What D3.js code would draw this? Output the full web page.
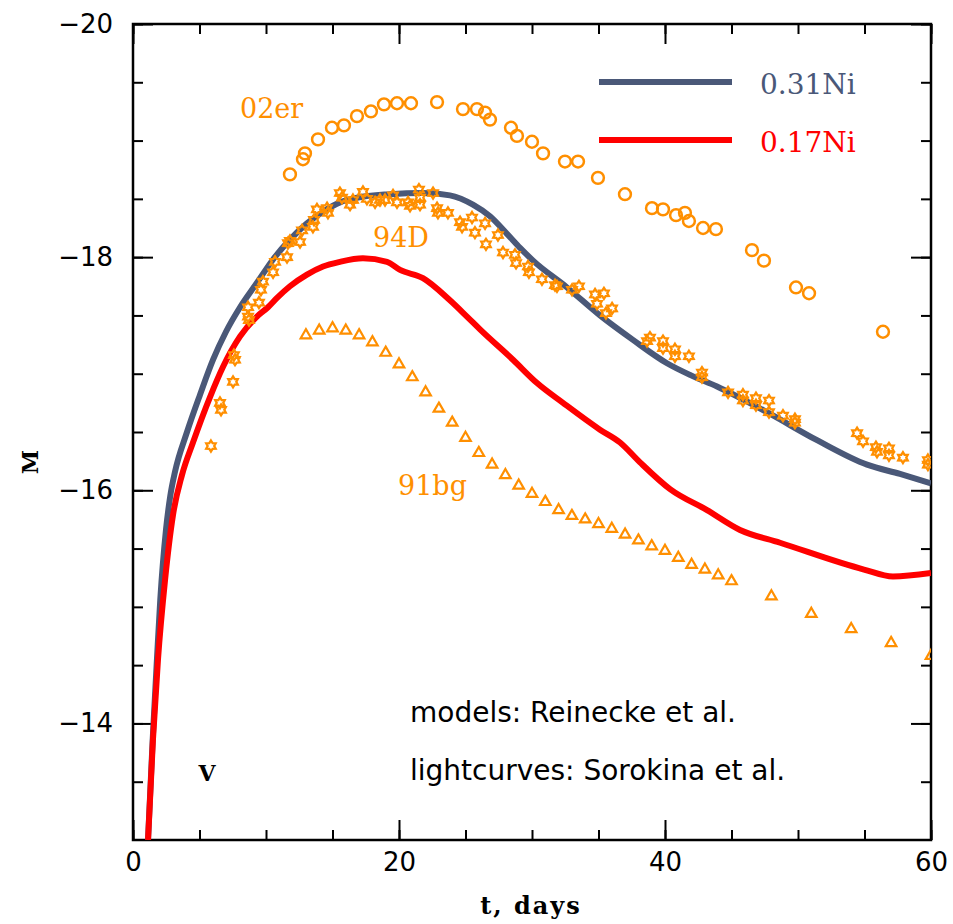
<!DOCTYPE html>
<html>
<head>
<meta charset="utf-8">
<script src="https://cdn.jsdelivr.net/npm/d3@7"></script>
<style>
    body { margin: 0; background: #fff; }
</style>
</head>
<body>
<svg id="chart" width="953" height="924"></svg>
<script>
// model light curves (t in days, M = absolute V magnitude)
var tNi031 = [1.13, 1.48, 1.80, 2.05, 2.48, 2.80, 3.16, 4.06, 5.04, 6.02, 6.99, 8.05, 9.32, 10.53, 11.80, 13.08,
    14.29, 15.56, 16.84, 19.32, 21.80, 23.83, 25.56, 26.84, 28.12, 29.10, 30.08, 32.63, 35.11, 37.59, 40.15,
    41.88, 43.91, 47.67, 51.43, 55.19, 57.67, 60];
var mNi031 = [-13.00, -13.86, -14.55, -15.06, -15.66, -15.95, -16.16, -16.50, -16.82, -17.12, -17.36, -17.57,
    -17.78, -17.98, -18.15, -18.29, -18.39, -18.47, -18.51, -18.54, -18.55, -18.53, -18.45, -18.35, -18.20,
    -18.08, -17.97, -17.74, -17.50, -17.29, -17.09, -16.99, -16.89, -16.67, -16.43, -16.22, -16.14, -16.06];

var tNi017 = [1.13, 1.50, 1.88, 2.41, 3.01, 3.68, 4.51, 5.79, 6.77, 8.05, 9.32, 10.15, 10.83, 11.80, 13.08,
    14.29, 15.56, 17.29, 19.10, 20.08, 21.80, 23.83, 25.11, 26.09, 28.57, 30.38, 32.33, 35.11, 36.62, 38.12,
    40.38, 43.16, 45.64, 48.65, 54.96, 57.14, 60];
var mNi017 = [-13.00, -13.86, -14.55, -15.23, -15.79, -16.13, -16.41, -16.80, -17.06, -17.32, -17.49, -17.57,
    -17.65, -17.75, -17.85, -17.92, -17.96, -17.99, -17.96, -17.89, -17.82, -17.63, -17.49, -17.38, -17.12,
    -16.92, -16.75, -16.52, -16.41, -16.24, -16.01, -15.83, -15.66, -15.55, -15.32, -15.26, -15.29];

// observed light curves
var t02er = [11.80, 12.78, 12.93, 13.91, 14.96, 15.86, 16.84, 17.89, 18.87, 19.85, 20.90, 22.86, 24.81, 25.86,
    26.47, 26.84, 28.42, 28.87, 30.00, 30.83, 32.48, 33.46, 34.96, 36.99, 39.02, 39.85, 40.83, 41.50, 41.80,
    42.86, 43.83, 46.54, 47.44, 49.85, 50.83, 56.39];
var m02er = [-18.71, -18.84, -18.89, -19.01, -19.11, -19.13, -19.21, -19.25, -19.31, -19.32, -19.32, -19.33,
    -19.27, -19.27, -19.24, -19.18, -19.11, -19.04, -18.99, -18.89, -18.82, -18.82, -18.68, -18.54, -18.42,
    -18.41, -18.36, -18.38, -18.31, -18.25, -18.24, -18.06, -17.97, -17.74, -17.69, -17.36];

var t94D = [5.86, 6.54, 6.62, 7.52, 7.59, 7.67, 8.65, 8.65, 8.72, 9.47, 9.62, 9.77, 10.53, 10.68, 11.58, 11.65,
    11.80, 12.56, 12.71, 13.53, 13.61, 13.83, 14.59, 14.66, 15.56, 15.71, 16.32, 16.54, 17.29, 17.59, 18.20,
    18.57, 18.95, 19.55, 19.85, 20.68, 20.83, 21.50, 21.58, 21.58, 22.56, 22.86, 22.93, 23.68, 24.59, 24.74,
    25.49, 25.71, 26.47, 26.54, 27.44, 27.82, 28.72, 28.80, 29.70, 29.77, 30.75, 31.73, 31.88, 33.01, 33.53,
    34.74, 34.89, 35.41, 35.56, 36.02, 38.65, 38.87, 39.85, 39.85, 40.75, 40.75, 41.80, 42.78, 42.78, 44.74,
    45.86, 45.86, 46.84, 46.84, 47.82, 47.82, 48.87, 49.77, 49.77, 54.44, 54.89, 55.86, 55.94, 56.84, 56.84,
    57.89, 59.77, 59.77];
var m94D = [-16.38, -16.75, -16.69, -16.93, -17.16, -17.12, -17.57, -17.49, -17.46, -17.61, -17.72, -17.79,
    -17.87, -17.96, -18.00, -18.12, -18.14, -18.13, -18.23, -18.26, -18.32, -18.41, -18.42, -18.38, -18.55,
    -18.51, -18.45, -18.49, -18.56, -18.50, -18.47, -18.49, -18.49, -18.53, -18.47, -18.47, -18.44, -18.58,
    -18.51, -18.45, -18.55, -18.42, -18.38, -18.38, -18.30, -18.26, -18.34, -18.21, -18.29, -18.11, -18.19,
    -18.04, -18.02, -17.95, -17.92, -17.87, -17.81, -17.76, -17.75, -17.72, -17.75, -17.68, -17.60, -17.69,
    -17.52, -17.56, -17.28, -17.31, -17.28, -17.22, -17.21, -17.15, -17.15, -17.01, -16.97, -16.84, -16.82,
    -16.77, -16.79, -16.73, -16.77, -16.67, -16.64, -16.61, -16.58, -16.49, -16.42, -16.37, -16.33, -16.36,
    -16.30, -16.28, -16.26, -16.22];

var t91bg = [13, 14, 15, 16, 17, 18, 19, 20, 21, 22, 23, 24, 25, 26, 27, 28, 29, 30, 31, 32, 33, 34, 35, 36,
    37, 38, 39, 40, 41, 42, 43, 44, 45, 48, 51, 54, 57, 60];
var m91bg = [-17.33, -17.37, -17.39, -17.37, -17.33, -17.27, -17.18, -17.08, -16.97, -16.84, -16.70, -16.58,
    -16.45, -16.32, -16.22, -16.13, -16.04, -15.97, -15.90, -15.83, -15.78, -15.75, -15.71, -15.67, -15.62,
    -15.57, -15.52, -15.48, -15.42, -15.36, -15.32, -15.27, -15.22, -15.09, -14.94, -14.81, -14.69, -14.58];

var xMajor = [0, 20, 40, 60],
    yMajor = [-20, -18, -16, -14];

var seriesNames = ['0.31Ni', '0.17Ni'];

var navy = '#4a5878',
    red = '#ff0000',
    orange = '#ff8f00';

var mLeft = 133, mTop = 24, width = 798, height = 816;

var svg = d3.select('#chart'),
    x = d3.scaleLinear().domain([0, 60]).range([0, width]),
    y = d3.scaleLinear().domain([-20, -13]).range([0, height]),
    chart = svg.append('g').attr('transform', 'translate(' + mLeft + ',' + mTop + ')');

svg.append('defs').append('clipPath')
    .attr('id', 'plot')
    .append('rect')
    .attr('width', width)
    .attr('height', height);

// ticks on all four sides, pointing inward
function addTicks(axis, tx, ty) {
    var g = chart.append('g')
        .attr('transform', 'translate(' + tx + ',' + ty + ')')
        .call(axis);
    g.select('.domain').remove();
    g.selectAll('line').attr('stroke', '#000').attr('stroke-width', 2);
    return g;
}

var yl = addTicks(d3.axisLeft(y).tickValues(yMajor).tickSize(-20).tickPadding(20).tickFormat(d3.format('d')), 0, 0);
addTicks(d3.axisLeft(y).tickValues(d3.range(-20, -13, 0.5)).tickSize(-10).tickFormat(''), 0, 0);
addTicks(d3.axisRight(y).tickValues(yMajor).tickSize(-20).tickFormat(''), width, 0);
addTicks(d3.axisRight(y).tickValues(d3.range(-20, -13, 0.5)).tickSize(-10).tickFormat(''), width, 0);
var xl = addTicks(d3.axisBottom(x).tickValues(xMajor).tickSize(-20).tickPadding(13).tickFormat(d3.format('d')), 0, height);
addTicks(d3.axisBottom(x).tickValues(d3.range(0, 61, 5)).tickSize(-10).tickFormat(''), 0, height);
addTicks(d3.axisTop(x).tickValues(xMajor).tickSize(-20).tickFormat(''), 0, 0);
addTicks(d3.axisTop(x).tickValues(d3.range(0, 61, 5)).tickSize(-10).tickFormat(''), 0, 0);

[yl, xl].forEach(function(g) {
    g.selectAll('text')
        .attr('fill', '#000')
        .style('font-family', '"DejaVu Sans", sans-serif')
        .style('font-size', '26px');
});

chart.append('rect')
    .attr('width', width)
    .attr('height', height)
    .attr('fill', 'none')
    .attr('stroke', '#000')
    .attr('stroke-width', 2.5);

// model curves
var line = d3.line()
    .x(function(d) { return x(d[0]); })
    .y(function(d) { return y(d[1]); })
    .curve(d3.curveMonotoneX);

var curves = chart.append('g').attr('clip-path', 'url(#plot)');

[[tNi031, mNi031, navy], [tNi017, mNi017, red]].forEach(function(s) {
    curves.append('path')
        .datum(s[0].map(function(t, i) { return [t, s[1][i]]; }))
        .attr('fill', 'none')
        .attr('stroke', s[2])
        .attr('stroke-width', 6)
        .attr('stroke-linejoin', 'round')
        .attr('d', line);
});

// observed points
var star6 = {
    draw: function(ctx, size) {
        var r = Math.sqrt(size) / 2;
        for (var i = 0; i < 12; i++) {
            var a = i * Math.PI / 6 - Math.PI / 2,
                rr = i % 2 ? r * 0.6 : r;
            if (i === 0) ctx.moveTo(rr * Math.cos(a), rr * Math.sin(a));
            else ctx.lineTo(rr * Math.cos(a), rr * Math.sin(a));
        }
        ctx.closePath();
    }
};

var points = chart.append('g').attr('clip-path', 'url(#plot)');

function addPoints(ts, ms, type, size, sw) {
    points.append('g').selectAll('path')
        .data(ts.map(function(t, i) { return [t, ms[i]]; }))
        .enter()
        .append('path')
        .attr('transform', function(d) { return 'translate(' + x(d[0]) + ',' + y(d[1]) + ')'; })
        .attr('d', d3.symbol().type(type).size(size))
        .attr('fill', 'none')
        .attr('stroke', orange)
        .attr('stroke-width', sw);
}

addPoints(t02er, m02er, d3.symbolCircle, 110, 2.5);
addPoints(t94D, m94D, star6, 120, 2.3);
addPoints(t91bg, m91bg, d3.symbolTriangle, 48, 2.2);

// labels
function label(txt, lx, ly, color) {
    chart.append('text')
        .attr('x', lx)
        .attr('y', ly)
        .attr('fill', color)
        .style('font-family', '"DejaVu Serif", serif')
        .style('font-size', '27px')
        .text(txt);
}

label('02er', 107, 94, orange);
label('94D', 240, 223, orange);
label('91bg', 265, 471, orange);

// legend
var legend = chart.append('g').selectAll('g')
    .data(seriesNames)
    .enter()
    .append('g')
    .attr('transform', function(d, i) { return 'translate(466,' + (58 + i * 58) + ')'; });

legend.append('line')
    .attr('x2', 133)
    .attr('stroke', function(d, i) { return [navy, red][i]; })
    .attr('stroke-width', 6);

legend.append('text')
    .attr('x', 161)
    .attr('y', 12)
    .attr('fill', function(d, i) { return [navy, red][i]; })
    .style('font-family', '"DejaVu Serif", serif')
    .style('font-size', '28px')
    .text(function(d) { return d; });

chart.append('text')
    .attr('x', 74)
    .attr('y', 757)
    .attr('text-anchor', 'middle')
    .style('font-family', '"DejaVu Serif", serif')
    .style('font-weight', 'bold')
    .style('font-size', '22px')
    .text('V');

['models: Reinecke et al.', 'lightcurves: Sorokina et al.'].forEach(function(s, i) {
    chart.append('text')
        .attr('x', 277)
        .attr('y', 698 + i * 58)
        .style('font-family', '"DejaVu Sans", sans-serif')
        .style('font-size', '28px')
        .text(s);
});

// axis titles
svg.append('text')
    .attr('x', 531)
    .attr('y', 914)
    .attr('text-anchor', 'middle')
    .style('font-family', '"DejaVu Serif", serif')
    .style('font-weight', 'bold')
    .style('font-size', '24px')
    .style('letter-spacing', '2px')
    .text('t, days');

svg.append('text')
    .attr('transform', 'translate(38,462) rotate(-90)')
    .attr('text-anchor', 'middle')
    .style('font-family', '"DejaVu Serif", serif')
    .style('font-weight', 'bold')
    .style('font-size', '22px')
    .text('M');
</script>
</body>
</html>
